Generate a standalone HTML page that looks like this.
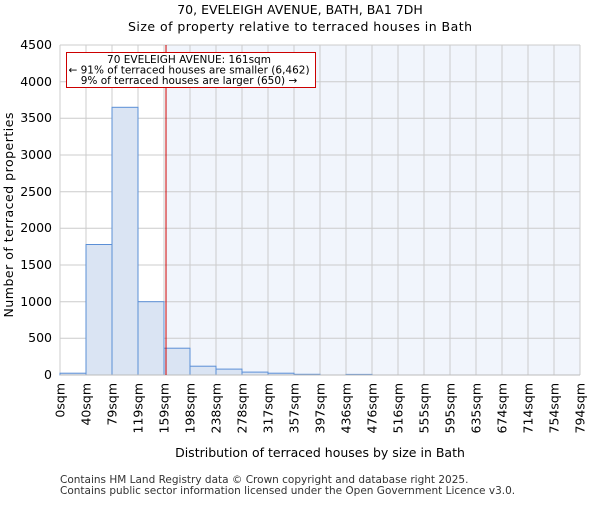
<!DOCTYPE html><html><head><style>body{margin:0;background:#fff}</style></head><body>
<svg width="600" height="500" xmlns="http://www.w3.org/2000/svg" font-family="DejaVu Sans, Liberation Sans, sans-serif">
<rect width="600" height="500" fill="#fff"/>
<text x="300" y="14" font-size="12.5" text-anchor="middle">70, EVELEIGH AVENUE, BATH, BA1 7DH</text>
<text x="300" y="31" font-size="12.5" text-anchor="middle" textLength="344">Size of property relative to terraced houses in Bath</text>
<rect x="166" y="45" width="414" height="330" fill="#f1f5fc"/>
<g stroke="#cccccc" stroke-width="1">
<line x1="60" y1="338.3" x2="580" y2="338.3"/><line x1="60" y1="301.7" x2="580" y2="301.7"/><line x1="60" y1="265" x2="580" y2="265"/><line x1="60" y1="228.3" x2="580" y2="228.3"/><line x1="60" y1="191.7" x2="580" y2="191.7"/><line x1="60" y1="155" x2="580" y2="155"/><line x1="60" y1="118.3" x2="580" y2="118.3"/><line x1="60" y1="81.7" x2="580" y2="81.7"/><line x1="60" y1="45" x2="580" y2="45"/>
<line x1="86" y1="45" x2="86" y2="375"/><line x1="112" y1="45" x2="112" y2="375"/><line x1="138" y1="45" x2="138" y2="375"/><line x1="164" y1="45" x2="164" y2="375"/><line x1="190" y1="45" x2="190" y2="375"/><line x1="216" y1="45" x2="216" y2="375"/><line x1="242" y1="45" x2="242" y2="375"/><line x1="268" y1="45" x2="268" y2="375"/><line x1="294" y1="45" x2="294" y2="375"/><line x1="320" y1="45" x2="320" y2="375"/><line x1="346" y1="45" x2="346" y2="375"/><line x1="372" y1="45" x2="372" y2="375"/><line x1="398" y1="45" x2="398" y2="375"/><line x1="424" y1="45" x2="424" y2="375"/><line x1="450" y1="45" x2="450" y2="375"/><line x1="476" y1="45" x2="476" y2="375"/><line x1="502" y1="45" x2="502" y2="375"/><line x1="528" y1="45" x2="528" y2="375"/><line x1="554" y1="45" x2="554" y2="375"/><line x1="580" y1="45" x2="580" y2="375"/><line x1="60" y1="45" x2="60" y2="375"/>
</g>
<g fill="#dae4f3" stroke="#5b8fd6" stroke-width="1">
<rect x="60" y="373.2" width="26" height="1.8"/>
<rect x="86" y="244.5" width="26" height="130.5"/>
<rect x="112" y="107.3" width="26" height="267.7"/>
<rect x="138" y="301.7" width="26" height="73.3"/>
<rect x="164" y="348.2" width="26" height="26.8"/>
<rect x="190" y="366.2" width="26" height="8.8"/>
<rect x="216" y="369.1" width="26" height="5.9"/>
<rect x="242" y="372.1" width="26" height="2.9"/>
<rect x="268" y="373.2" width="26" height="1.8"/>
<rect x="294" y="374.3" width="26" height="0.7"/>
<rect x="346" y="374.4" width="26" height="0.6"/>
</g>
<line x1="60" y1="375" x2="580" y2="375" stroke="#bbb"/>
<line x1="166" y1="45" x2="166" y2="375" stroke="#cc0000" stroke-width="1"/>
<rect x="66.5" y="52.5" width="249" height="35" fill="#fff" stroke="#cc0000"/>
<g font-size="10.5" text-anchor="middle"><text x="189" y="63">70 EVELEIGH AVENUE: 161sqm</text><text x="189" y="73.5">← 91% of terraced houses are smaller (6,462)</text><text x="189" y="84">9% of terraced houses are larger (650) →</text></g>
<g font-size="12.5" text-anchor="end"><text x="52" y="379">0</text><text x="52" y="342">500</text><text x="52" y="306">1000</text><text x="52" y="269">1500</text><text x="52" y="232">2000</text><text x="52" y="196">2500</text><text x="52" y="159">3000</text><text x="52" y="122">3500</text><text x="52" y="86">4000</text><text x="52" y="49">4500</text></g>
<g font-size="12.5" text-anchor="end">
<text transform="translate(64.5,383) rotate(-90)">0sqm</text><text transform="translate(90.5,383) rotate(-90)">40sqm</text><text transform="translate(116.5,383) rotate(-90)">79sqm</text><text transform="translate(142.5,383) rotate(-90)">119sqm</text><text transform="translate(168.5,383) rotate(-90)">159sqm</text><text transform="translate(194.5,383) rotate(-90)">198sqm</text><text transform="translate(220.5,383) rotate(-90)">238sqm</text><text transform="translate(246.5,383) rotate(-90)">278sqm</text><text transform="translate(272.5,383) rotate(-90)">317sqm</text><text transform="translate(298.5,383) rotate(-90)">357sqm</text><text transform="translate(324.5,383) rotate(-90)">397sqm</text><text transform="translate(350.5,383) rotate(-90)">436sqm</text><text transform="translate(376.5,383) rotate(-90)">476sqm</text><text transform="translate(402.5,383) rotate(-90)">516sqm</text><text transform="translate(428.5,383) rotate(-90)">555sqm</text><text transform="translate(454.5,383) rotate(-90)">595sqm</text><text transform="translate(480.5,383) rotate(-90)">635sqm</text><text transform="translate(506.5,383) rotate(-90)">674sqm</text><text transform="translate(532.5,383) rotate(-90)">714sqm</text><text transform="translate(558.5,383) rotate(-90)">754sqm</text><text transform="translate(584.5,383) rotate(-90)">794sqm</text>
</g>
<text x="320" y="457" font-size="12.5" text-anchor="middle">Distribution of terraced houses by size in Bath</text>
<text transform="translate(13,215) rotate(-90)" font-size="12.5" text-anchor="middle" textLength="205">Number of terraced properties</text>
<text x="60" y="483" font-size="10.5" fill="#333">Contains HM Land Registry data © Crown copyright and database right 2025.</text>
<text x="60" y="494" font-size="10.5" fill="#333">Contains public sector information licensed under the Open Government Licence v3.0.</text>
</svg></body></html>
